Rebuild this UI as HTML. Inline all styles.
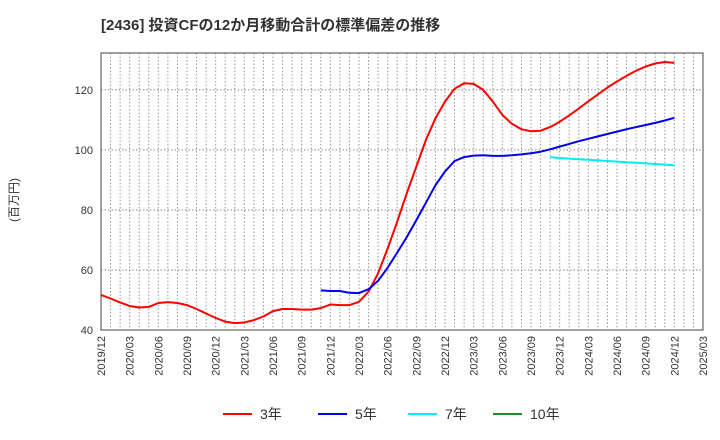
<!DOCTYPE html>
<html><head><meta charset="utf-8"><style>
body{margin:0;background:#fff;font-family:"Liberation Sans","Noto Sans CJK JP",sans-serif;}
svg{display:block}
</style></head><body>
<svg id="c" width="720" height="440">
<text x="101" y="30" font-size="15" font-weight="bold" fill="#333" font-family="Liberation Sans, Noto Sans CJK JP, sans-serif">[2436]  投資CFの12か月移動合計の標準偏差の推移</text>
<text transform="translate(18,200) rotate(-90)" text-anchor="middle" font-size="12" fill="#333" font-family="Liberation Sans, Noto Sans CJK JP, sans-serif">(百万円)</text>
<g id="grid"></g><g id="series"></g><g id="axes"></g><g id="legend"></g>
</svg>
<script>
const xLabels=["2019/12","2020/03","2020/06","2020/09","2020/12","2021/03","2021/06","2021/09","2021/12","2022/03","2022/06","2022/09","2022/12","2023/03","2023/06","2023/09","2023/12","2024/03","2024/06","2024/09","2024/12","2025/03"];
const yTicks=[40,60,80,100,120];
const s3=[51.7,50.5,49.2,48,47.5,47.7,49,49.3,49,48.3,47,45.5,44,42.8,42.3,42.5,43.3,44.5,46.3,47,47,46.8,46.8,47.3,48.5,48.3,48.3,49.4,52.8,58.9,67.2,76.1,85.6,94.4,103.3,110.5,116.1,120.4,122.2,122,120,116.1,111.7,108.7,106.9,106.2,106.4,107.6,109.4,111.5,113.8,116.2,118.5,120.8,122.8,124.7,126.4,127.8,128.8,129.3,129];
const s5start=23;
const s5=[53.2,53,53,52.4,52.3,53.6,56.4,60.8,65.8,71,76.6,82.4,88.2,92.8,96.3,97.6,98.1,98.2,98,98,98.2,98.5,98.9,99.4,100.2,101.1,102,102.9,103.7,104.5,105.3,106.1,106.9,107.6,108.3,109,109.8,110.7];
const s7start=47;
const s7=[97.6,97.3,97.1,96.9,96.7,96.5,96.3,96.1,95.9,95.7,95.5,95.3,95.1,94.9];
const L=101,R=703,T=53,B=330,yMin=40,yMax=132.3,nMonths=63;
const X=i=>L+(R-L)*i/nMonths;
const Y=v=>B-(v-yMin)/(yMax-yMin)*(B-T);
const NS="http://www.w3.org/2000/svg";
function mk(tag,attrs,parent){const e=document.createElementNS(NS,tag);for(const k in attrs)e.setAttribute(k,attrs[k]);parent.appendChild(e);return e;}
const grid=document.getElementById('grid'),axes=document.getElementById('axes'),ser=document.getElementById('series'),leg=document.getElementById('legend');
for(let m=1;m<nMonths;m++){const g=mk('line',{x1:X(m),x2:X(m),y1:T,y2:B,stroke:'#999','stroke-dasharray':'1.5,2','stroke-width':1},grid);

}
yTicks.forEach(v=>{if(v>yMin){const g=mk('line',{x1:L,x2:R,y1:Y(v),y2:Y(v),stroke:'#888','stroke-dasharray':'1.5,2','stroke-width':1},grid);

}
const t=mk('text',{x:L-8,y:Y(v)+4,'text-anchor':'end','font-size':11,fill:'#333'},axes);t.textContent=v;

});
const fr=mk('rect',{x:L,y:T,width:R-L,height:B-T,fill:'none',stroke:'#444','stroke-width':1},axes);


xLabels.forEach((s,i)=>{const x=X(i*3);const t=mk('text',{transform:`translate(${x+4},${B+6}) rotate(-90)`,'text-anchor':'end','font-size':11,fill:'#333'},axes);t.textContent=s;

});
function line(arr,start,color,name){const p=arr.map((v,i)=>X(start+i).toFixed(1)+','+Y(v).toFixed(1)).join(' ');
const e=mk('polyline',{points:p,fill:'none',stroke:color,'stroke-width':2,'stroke-linejoin':'round'},ser);

}
line(s3,0,'#ff0000','series-3y');
line(s5,s5start,'#0000ee','series-5y');
line(s7,s7start,'#00eeee','series-7y');
const legItems=[["3年","#ff0000",223],["5年","#0000ee",318],["7年","#00eeee",408],["10年","#228b22",493]];
legItems.forEach(([lab,c,x])=>{const g=mk('g',{},leg);


mk('line',{x1:x,x2:x+29,y1:414,y2:414,stroke:c,'stroke-width':2},g);
const t=mk('text',{x:x+37,y:419,'font-size':14,fill:'#333'},g);t.textContent=lab;});
</script>
</body></html>
